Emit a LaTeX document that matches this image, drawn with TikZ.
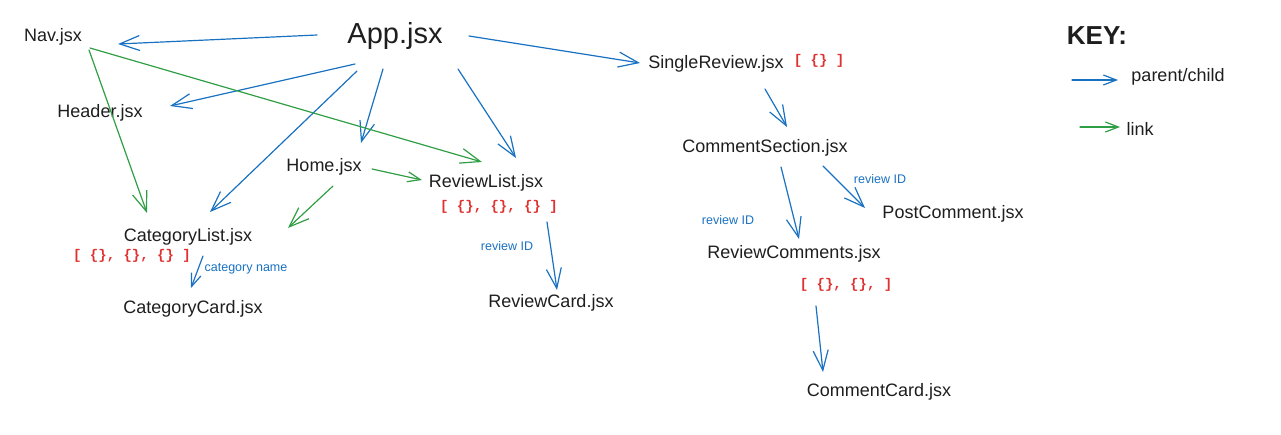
\documentclass[tikz,border=0pt]{standalone}
\usepackage{fontspec}
\setmainfont{Liberation Sans}
\newfontfamily\arrfont{Liberation Mono}
\usetikzlibrary{arrows.meta}
\definecolor{exblue}{HTML}{1971C2}
\definecolor{exgreen}{HTML}{2F9E44}
\definecolor{exred}{HTML}{E03131}
\definecolor{exink}{HTML}{1E1E1E}
\begin{document}
\begin{tikzpicture}[x=1pt,y=-1pt,
  lbl/.style={inner sep=0pt, text=exink, font=\fontsize{18}{20}\selectfont},
  big/.style={inner sep=0pt, text=exink, font=\fontsize{29}{32}\selectfont},
  keyttl/.style={inner sep=0pt, text=exink, font=\fontsize{26}{28}\bfseries},
  arr/.style={inner sep=0pt, text=exred, font=\arrfont\bfseries\fontsize{14}{16}\selectfont},
  note/.style={inner sep=0pt, text=exblue, font=\fontsize{12.5}{14}\selectfont},
  pcarrow/.style={draw=exblue, line width=1.2pt, line cap=round,
    -{Straight Barb[length=20pt,width=15pt,line width=1.2pt]}},
  lkarrow/.style={draw=exgreen, line width=1.2pt, line cap=round,
    -{Straight Barb[length=20pt,width=15pt,line width=1.2pt]}},
  smallhead/.style={-{Straight Barb[length=13pt,width=10pt,line width=1.2pt]}}
]
\useasboundingbox (0,0) rectangle (1281,434);

% nodes
\node[lbl] (nav) at (53,37) {Nav.jsx};
\node[big] (app) at (395,36) {App.jsx};
\node[lbl] (sr) at (716,64) {SingleReview.jsx};
\node[arr] (srd) at (819,61) {[ \{\} ]};
\node[keyttl] (key) at (1097,36) {KEY:};
\node[lbl] (pc) at (1178,77) {parent/child};
\node[lbl] (lk) at (1140,129) {link};
\node[lbl] (hdr) at (100,113) {Header.jsx};
\node[lbl] (home) at (324,167) {Home.jsx};
\node[lbl] (rl) at (486,183) {ReviewList.jsx};
\node[arr] (rld) at (499,207) {[ \{\}, \{\}, \{\} ]};
\node[lbl] (cl) at (188,237) {CategoryList.jsx};
\node[arr] (cld) at (132,256) {[ \{\}, \{\}, \{\} ]};
\node[note] (cn) at (246,269) {category name};
\node[lbl] (cc) at (193,309) {CategoryCard.jsx};
\node[note] (rid1) at (507,246) {review ID};
\node[lbl] (rc) at (551,303) {ReviewCard.jsx};
\node[lbl] (cs) at (765,148) {CommentSection.jsx};
\node[note] (rid2) at (880,179) {review ID};
\node[lbl] (post) at (953,214) {PostComment.jsx};
\node[note] (rid3) at (728,220) {review ID};
\node[lbl] (rcm) at (794,254) {ReviewComments.jsx};
\node[arr] (rcmd) at (846,285) {[ \{\}, \{\}, ]};
\node[lbl] (ccard) at (879,392) {CommentCard.jsx};

% parent/child connectors
\draw[pcarrow] ([shift={(-78,-1)}]app.center) -- ([shift={(65,7)}]nav.center);
\draw[pcarrow] ([shift={(74,0)}]app.center) -- ([shift={(-76,-1)}]sr.center);
\draw[pcarrow] ([shift={(-40,28)}]app.center) -- ([shift={(70,-7)}]hdr.center);
\draw[pcarrow] ([shift={(-38,35)}]app.center) -- ([shift={(22,-25)}]cl.center);
\draw[pcarrow] ([shift={(-12,33)}]app.center) -- ([shift={(37,-24)}]home.center);
\draw[pcarrow] ([shift={(63,33)}]app.center) -- ([shift={(30,-25)}]rl.center);
\draw[pcarrow,smallhead] ([shift={(15,19)}]cl.center) -- ([shift={(-2,-21)}]cc.center);
\draw[pcarrow] ([shift={(61,39)}]rl.center) -- ([shift={(6,-13)}]rc.center);
\draw[pcarrow] ([shift={(49,25)}]sr.center) -- ([shift={(22,-21)}]cs.center);
\draw[pcarrow] ([shift={(16,19)}]cs.center) -- ([shift={(5,-15)}]rcm.center);
\draw[pcarrow] ([shift={(58,18)}]cs.center) -- ([shift={(-88,-6)}]post.center);
\draw[pcarrow] ([shift={(22,52)}]rcm.center) -- ([shift={(-56,-20)}]ccard.center);

% link connectors
\draw[lkarrow] ([shift={(37,11)}]nav.center) -- ([shift={(-4,-21)}]rl.center);
\draw[lkarrow] ([shift={(36,13)}]nav.center) -- ([shift={(-41,-24)}]cl.center);
\draw[lkarrow,smallhead] ([shift={(48,2)}]home.center) -- ([shift={(-64,-3)}]rl.center);
\draw[lkarrow] ([shift={(9,19)}]home.center) -- ([shift={(100,-9)}]cl.center);

% key samples
\coordinate (kb1) at (1072,80);
\coordinate (kb2) at (1118,80);
\coordinate (kg1) at (1080,127);
\coordinate (kg2) at (1120,127);
\draw[pcarrow,smallhead] (kb1) -- (kb2);
\draw[lkarrow,smallhead] (kg1) -- (kg2);
\end{tikzpicture}
\end{document}
